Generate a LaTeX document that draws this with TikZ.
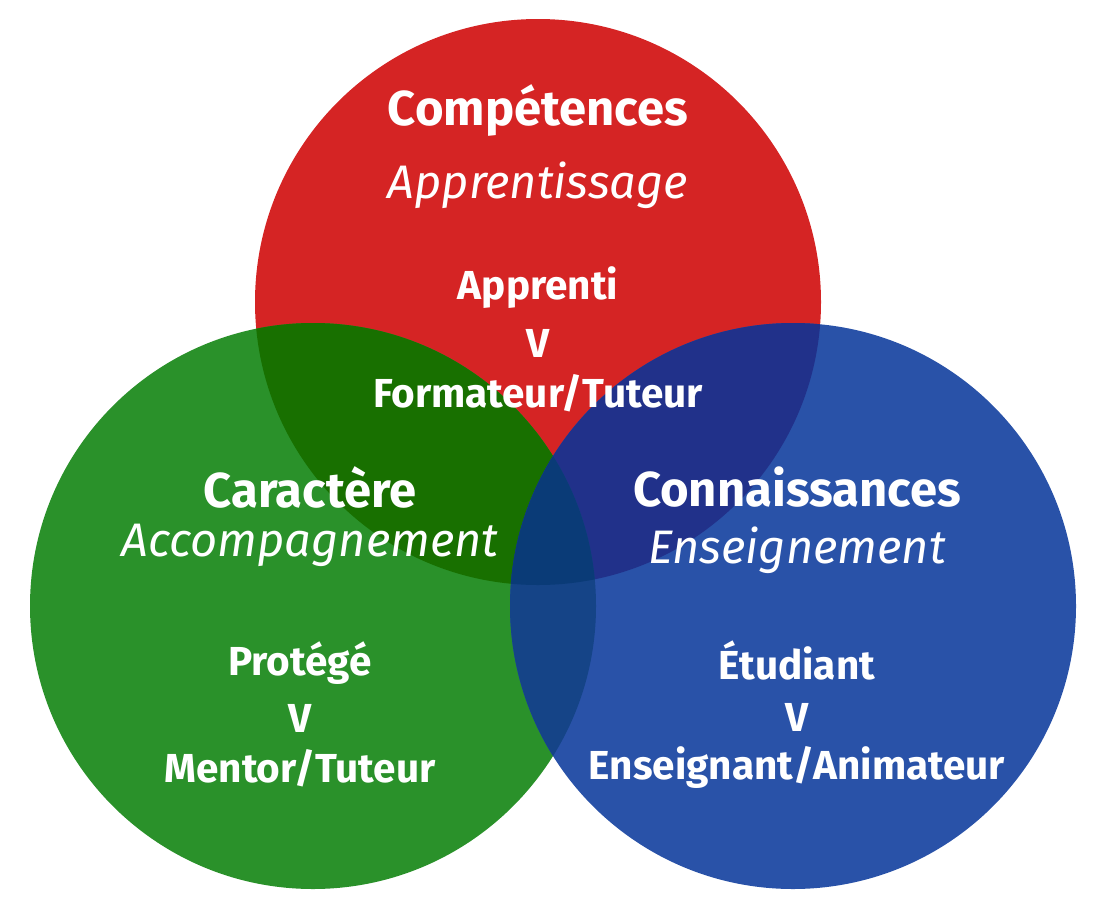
\documentclass[tikz,border=0pt]{standalone}
\usepackage{fontspec}
\setmainfont{Fira Sans}
\usetikzlibrary{positioning}
\definecolor{compred}{HTML}{D52424}
\definecolor{cargreen}{HTML}{2A912A}
\definecolor{connblue}{HTML}{2952A8}
\definecolor{redgreen}{HTML}{187000}
\definecolor{redblue}{HTML}{21318A}
\definecolor{greenblue}{HTML}{154487}
\definecolor{allthree}{HTML}{0A3B77}
\tikzset{
  title/.style={text=white, font=\bfseries\fontsize{49}{55}\selectfont, inner sep=0pt},
  subtitle/.style={text=white, font=\itshape\fontsize{47}{53}\selectfont, inner sep=0pt},
  role/.style={text=white, font=\bfseries\fontsize{40.5}{46}\selectfont, inner sep=0pt}
}
\begin{document}
\begin{tikzpicture}[x=1pt,y=-1pt]
  \useasboundingbox (0,0) rectangle (1100,908);
  \def\rad{283}
  % Kreise
  \coordinate (cR) at (538,302);
  \coordinate (cG) at (313,606);
  \coordinate (cB) at (793,606);
  \fill[compred] (cR) circle (\rad);
  \fill[cargreen] (cG) circle (\rad);
  \fill[connblue] (cB) circle (\rad);
  % Schnittmengen
  \begin{scope}
    \clip (cR) circle (\rad);
    \fill[redgreen] (cG) circle (\rad);
    \fill[redblue] (cB) circle (\rad);
  \end{scope}
  \begin{scope}
    \clip (cG) circle (\rad);
    \fill[greenblue] (cB) circle (\rad);
  \end{scope}
  \begin{scope}
    \clip (cR) circle (\rad);
    \clip (cG) circle (\rad);
    \fill[allthree] (cB) circle (\rad);
  \end{scope}
  % Kompetenzen
  \node[title] (comp) at (538,110) {Compétences};
  \node[subtitle] (appr) at (538,185) {Apprentissage};
  \node[role] (apprenti) at (538,288) {Apprenti};
  \node[role] (vR) at (538,343) {V};
  \node[role] (form) at (538,393) {Formateur/Tuteur};
  % Charakter
  \node[title] (cara) at (310,487) {Caractère};
  \node[subtitle] (acco) at (310,545) {Accompagnement};
  \node[role] (prot) at (300,663) {Protégé};
  \node[role] (vG) at (300,718) {V};
  \node[role] (ment) at (300,768) {Mentor/Tuteur};
  % Wissen
  \node[title] (conn) at (797,487) {Connaissances};
  \node[subtitle] (ense) at (797,550) {Enseignement};
  \node[role] (etud) at (797,660) {Étudiant};
  \node[role] (vB) at (797,717) {V};
  \node[role] (anim) at (797,767) {Enseignant/Animateur};
\end{tikzpicture}
\end{document}
